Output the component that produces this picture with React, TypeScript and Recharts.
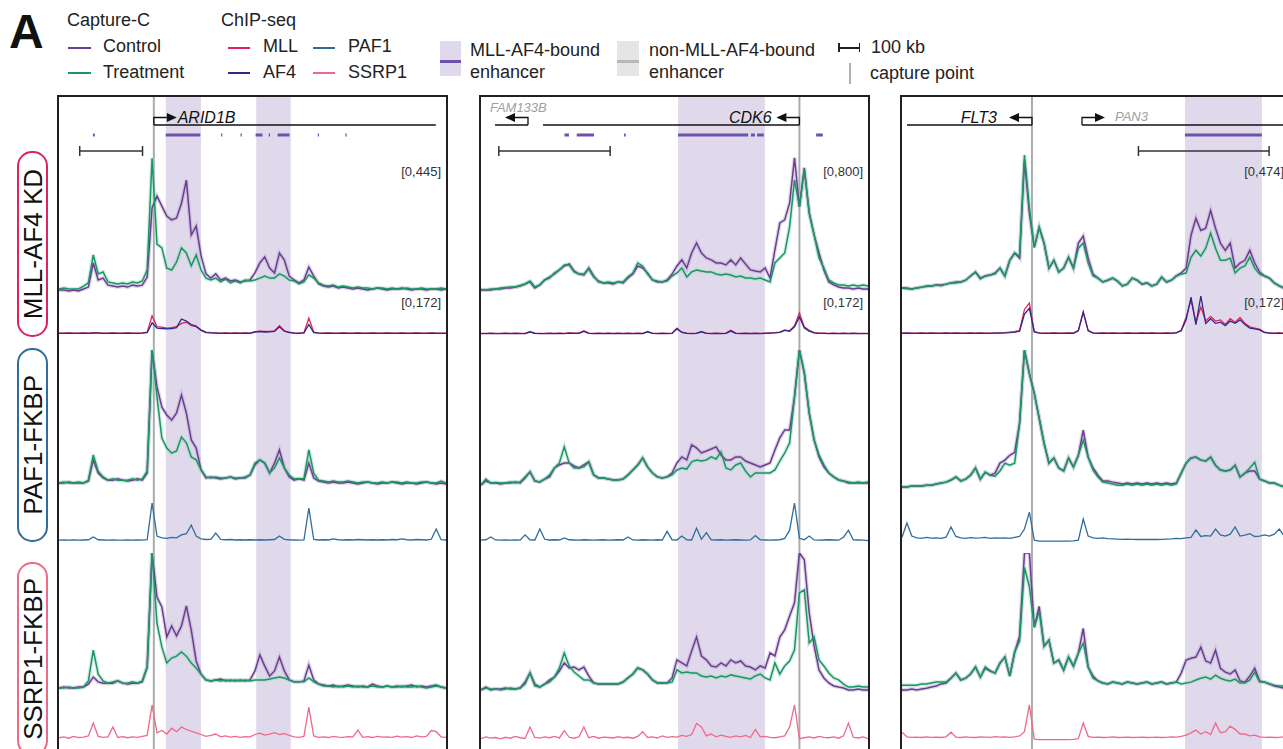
import React from 'react'
import { ComposedChart, Line, XAxis, YAxis, ReferenceArea, ReferenceLine, ReferenceDot } from 'recharts'

const FONT = '"Liberation Sans", Arial, Helvetica, sans-serif'

const C = {
  ctrl: '#6b3f90', ctrlBand: '#b9a2cf',
  trt: '#1d9466', trtBand: '#9ed6bd',
  mll: '#e3215f', af4: '#2b2b88', paf1: '#2f6d9d', ssrp1: '#f0698a',
  shade: '#e0d9eb', enh: '#6c52ae', capture: '#aaacac', border: '#231f20',
}

// ---------- ARID1B locus (capture-C range 0-445, ChIP range 0-172) ----------
const ARID1B_KD_CTRL = [
  25, 25, 22, 25, 22, 28, 34, 109, 56, 62,
  40, 37, 34, 37, 34, 40, 37, 40, 65, 280,
  317, 286, 255, 243, 249, 295, 367, 196, 224, 131,
  75, 62, 75, 56, 62, 53, 56, 50, 53, 56,
  78, 109, 128, 93, 78, 140, 118, 68, 56, 47,
  56, 96, 68, 44, 37, 34, 37, 31, 34, 31,
  28, 31, 28, 25, 28, 31, 28, 25, 28, 28,
  31, 28, 25, 28, 28, 25, 28, 28, 25, 28,
]
const ARID1B_KD_TRT = [
  28, 31, 28, 28, 28, 37, 47, 134, 75, 81,
  50, 47, 44, 47, 44, 50, 47, 53, 87, 435,
  168, 156, 93, 87, 112, 156, 140, 100, 134, 87,
  62, 56, 62, 50, 59, 47, 53, 47, 56, 53,
  56, 62, 68, 62, 62, 75, 68, 56, 53, 44,
  50, 72, 62, 47, 40, 37, 40, 34, 37, 34,
  31, 34, 31, 31, 28, 31, 31, 28, 31, 28,
  28, 31, 28, 28, 31, 28, 28, 28, 31, 28,
]
const ARID1B_MLL = [
  8, 8, 9, 8, 8, 9, 8, 10, 9, 8,
  8, 9, 8, 8, 9, 8, 8, 9, 12, 82,
  36, 34, 30, 32, 36, 50, 55, 40, 36, 22,
  12, 10, 9, 8, 9, 8, 9, 8, 9, 8,
  14, 17, 15, 16, 18, 40, 18, 12, 9, 8,
  10, 73, 12, 9, 8, 9, 8, 8, 9, 8,
  8, 9, 8, 8, 9, 8, 8, 9, 8, 8,
  9, 8, 8, 9, 8, 8, 9, 8, 8, 8,
]
const ARID1B_AF4 = [
  7, 7, 8, 7, 7, 8, 7, 8, 8, 7,
  7, 8, 7, 7, 8, 7, 7, 8, 10, 52,
  30, 28, 26, 28, 32, 69, 60, 45, 38, 20,
  10, 9, 8, 7, 8, 7, 8, 7, 8, 7,
  12, 15, 13, 14, 16, 35, 16, 10, 8, 7,
  9, 45, 10, 8, 7, 8, 7, 7, 8, 7,
  7, 8, 7, 7, 8, 7, 7, 8, 7, 7,
  8, 7, 7, 8, 7, 7, 8, 7, 7, 7,
]
const ARID1B_PAF_CTRL = [
  31, 31, 34, 31, 31, 31, 37, 103, 62, 47,
  40, 40, 44, 40, 37, 40, 44, 40, 62, 445,
  330, 267, 243, 227, 249, 305, 249, 165, 140, 72,
  47, 50, 47, 44, 47, 50, 44, 47, 47, 56,
  87, 103, 93, 62, 93, 134, 78, 50, 40, 44,
  40, 93, 47, 37, 34, 31, 34, 31, 31, 34,
  31, 28, 31, 34, 31, 28, 31, 31, 34, 31,
  28, 31, 31, 28, 31, 34, 31, 28, 31, 28,
]
const ARID1B_PAF_TRT = [
  31, 34, 31, 31, 34, 31, 40, 118, 68, 50,
  40, 44, 40, 40, 40, 44, 40, 44, 68, 445,
  299, 171, 140, 124, 131, 174, 156, 112, 103, 72,
  50, 47, 50, 47, 47, 50, 47, 47, 50, 56,
  93, 103, 93, 62, 78, 109, 78, 56, 44, 44,
  44, 134, 62, 40, 37, 34, 37, 34, 34, 37,
  34, 31, 34, 34, 31, 31, 34, 31, 34, 34,
  31, 34, 31, 31, 34, 34, 31, 31, 37, 31,
]
const ARID1B_PAF1 = [
  12, 13, 12, 13, 12, 13, 14, 26, 14, 13,
  12, 13, 12, 12, 13, 12, 13, 12, 14, 172,
  30, 22, 20, 24, 22, 35, 40, 77, 30, 18,
  15, 16, 43, 16, 14, 15, 13, 14, 13, 14,
  13, 14, 13, 14, 15, 30, 16, 14, 13, 12,
  13, 150, 15, 13, 14, 13, 18, 14, 13, 14,
  13, 15, 14, 13, 14, 13, 14, 13, 15, 14,
  18, 14, 13, 15, 14, 13, 16, 60, 14, 13,
]
const ARID1B_SSRP_CTRL = [
  25, 28, 25, 25, 28, 28, 37, 59, 44, 40,
  40, 40, 47, 40, 37, 40, 40, 44, 90, 445,
  308, 277, 184, 218, 187, 218, 280, 205, 109, 68,
  50, 47, 50, 53, 47, 50, 47, 50, 47, 50,
  78, 128, 93, 62, 78, 121, 78, 50, 44, 44,
  47, 96, 50, 37, 34, 31, 34, 28, 31, 34,
  31, 28, 31, 28, 37, 31, 28, 31, 28, 31,
  28, 31, 34, 28, 31, 28, 31, 34, 28, 25,
]
const ARID1B_SSRP_TRT = [
  25, 25, 28, 25, 25, 28, 47, 143, 68, 47,
  40, 44, 47, 40, 40, 44, 40, 47, 90, 445,
  227, 152, 103, 118, 124, 137, 124, 103, 87, 68,
  50, 47, 50, 47, 50, 47, 50, 47, 50, 47,
  50, 50, 50, 53, 56, 59, 56, 50, 44, 44,
  44, 56, 44, 37, 31, 31, 28, 31, 28, 31,
  28, 31, 28, 28, 31, 28, 28, 31, 28, 28,
  31, 28, 28, 31, 28, 25, 28, 31, 28, 25,
]
const ARID1B_SSRP1 = [
  14, 18, 12, 20, 15, 17, 22, 77, 20, 16,
  18, 60, 15, 19, 14, 18, 16, 20, 24, 155,
  35, 45, 30, 55, 40, 60, 50, 42, 35, 28,
  20, 24, 30, 18, 22, 17, 20, 16, 19, 18,
  28, 34, 25, 30, 36, 28, 32, 24, 18, 16,
  20, 146, 22, 16, 18, 15, 20, 17, 16, 19,
  18, 47, 16, 19, 15, 20, 17, 18, 16, 21,
  17, 19, 15, 22, 18, 20, 45, 40, 18, 16,
]

// ---------- CDK6 locus (capture-C range 0-800) ----------
const CDK6_KD_CTRL = [
  45, 45, 45, 50, 50, 56, 56, 62, 67, 78,
  90, 56, 73, 101, 112, 140, 157, 179, 190, 151,
  134, 129, 168, 123, 90, 84, 84, 78, 90, 84,
  112, 134, 179, 168, 140, 101, 90, 90, 101, 134,
  179, 213, 168, 252, 308, 252, 224, 213, 196, 196,
  185, 213, 185, 224, 190, 157, 151, 146, 168, 112,
  269, 420, 437, 532, 784, 510, 728, 476, 353, 252,
  157, 90, 73, 62, 56, 56, 50, 56, 50, 50,
]
const CDK6_KD_TRT = [
  48, 45, 50, 50, 56, 59, 62, 62, 70, 78,
  95, 62, 73, 101, 118, 134, 157, 185, 185, 146,
  134, 134, 162, 118, 95, 84, 90, 84, 90, 90,
  118, 140, 196, 179, 134, 101, 95, 90, 95, 123,
  140, 168, 118, 146, 157, 151, 146, 146, 134, 129,
  134, 129, 118, 123, 112, 112, 106, 112, 101, 90,
  196, 224, 252, 398, 661, 510, 717, 476, 353, 224,
  168, 101, 84, 73, 73, 67, 73, 67, 73, 67,
]
const CDK6_MLL = [
  7, 7, 8, 7, 7, 8, 7, 8, 7, 7,
  15, 8, 7, 7, 8, 7, 8, 7, 9, 8,
  8, 18, 8, 7, 8, 7, 8, 7, 8, 7,
  8, 7, 8, 7, 15, 8, 7, 8, 7, 8,
  30, 12, 8, 7, 8, 15, 8, 7, 8, 7,
  8, 20, 8, 7, 8, 7, 8, 7, 8, 9,
  10, 12, 22, 18, 40, 95, 35, 20, 10, 8,
  8, 7, 8, 7, 8, 7, 8, 7, 7, 7,
]
const CDK6_AF4 = [
  6, 6, 7, 6, 6, 7, 6, 7, 6, 6,
  12, 7, 6, 6, 7, 6, 7, 6, 8, 7,
  7, 15, 7, 6, 7, 6, 7, 6, 7, 6,
  7, 6, 7, 6, 13, 7, 6, 7, 6, 7,
  26, 11, 7, 6, 7, 13, 7, 6, 7, 6,
  7, 17, 7, 6, 7, 6, 7, 6, 7, 8,
  9, 11, 20, 16, 35, 78, 30, 17, 9, 7,
  7, 6, 7, 6, 7, 6, 7, 6, 6, 6,
]
const CDK6_PAF_CTRL = [
  45, 67, 56, 56, 50, 56, 56, 62, 56, 84,
  118, 67, 62, 78, 90, 140, 157, 168, 168, 151,
  140, 157, 174, 101, 84, 84, 78, 73, 73, 78,
  101, 129, 157, 196, 146, 112, 90, 84, 90, 112,
  168, 202, 185, 269, 252, 224, 235, 246, 258, 213,
  185, 185, 202, 202, 179, 168, 157, 146, 157, 168,
  241, 308, 353, 353, 538, 800, 672, 448, 297, 202,
  146, 112, 90, 73, 67, 56, 56, 56, 56, 56,
]
const CDK6_PAF_TRT = [
  45, 78, 56, 59, 56, 56, 62, 56, 62, 90,
  118, 67, 62, 78, 101, 140, 168, 258, 168, 140,
  140, 146, 174, 101, 84, 84, 78, 73, 73, 78,
  101, 129, 157, 196, 146, 112, 90, 84, 90, 101,
  129, 140, 134, 174, 185, 179, 185, 202, 190, 230,
  140, 129, 157, 168, 123, 90, 112, 112, 112, 112,
  129, 179, 224, 280, 538, 800, 672, 448, 297, 213,
  157, 112, 90, 73, 67, 62, 56, 62, 56, 62,
]
const CDK6_PAF1 = [
  12, 14, 26, 13, 12, 13, 12, 13, 12, 35,
  14, 13, 60, 16, 13, 14, 13, 22, 14, 13,
  12, 14, 13, 12, 13, 14, 12, 13, 14, 13,
  26, 13, 12, 14, 13, 12, 14, 13, 50, 14,
  13, 30, 14, 13, 64, 16, 45, 14, 13, 14,
  12, 13, 14, 13, 12, 13, 32, 14, 13, 12,
  13, 14, 20, 55, 172, 20, 14, 30, 13, 12,
  13, 14, 13, 12, 25, 55, 14, 13, 12, 10,
]
const CDK6_SSRP_CTRL = [
  34, 50, 34, 39, 39, 45, 39, 39, 45, 78,
  129, 67, 50, 67, 90, 106, 140, 185, 157, 162,
  146, 162, 112, 73, 67, 67, 67, 67, 67, 78,
  101, 123, 157, 146, 123, 90, 73, 73, 73, 101,
  202, 185, 168, 252, 330, 224, 202, 168, 162, 185,
  168, 202, 185, 196, 168, 162, 146, 168, 157, 241,
  224, 330, 370, 448, 521, 800, 762, 465, 280, 146,
  101, 73, 56, 50, 45, 34, 34, 39, 34, 34,
]
const CDK6_SSRP_TRT = [
  34, 45, 39, 39, 34, 39, 45, 39, 45, 67,
  129, 56, 50, 67, 78, 106, 157, 241, 168, 134,
  112, 90, 90, 73, 67, 67, 67, 67, 67, 78,
  101, 123, 157, 146, 123, 90, 73, 73, 73, 78,
  146, 129, 134, 129, 129, 112, 106, 112, 101, 112,
  106, 118, 112, 106, 101, 95, 112, 123, 101, 90,
  185, 123, 168, 196, 258, 577, 594, 297, 330, 202,
  168, 129, 101, 90, 67, 50, 50, 56, 50, 50,
]
const CDK6_SSRP1 = [
  10, 18, 12, 15, 9, 16, 12, 20, 14, 11,
  60, 15, 12, 18, 14, 20, 13, 45, 16, 12,
  18, 60, 14, 20, 12, 17, 15, 13, 19, 14,
  16, 12, 20, 40, 15, 18, 13, 22, 16, 19,
  17, 24, 20, 28, 75, 60, 22, 30, 18, 25,
  20, 16, 22, 18, 24, 15, 50, 18, 20, 16,
  14, 18, 22, 60, 155, 10, 14, 18, 13, 20,
  16, 14, 18, 12, 22, 77, 16, 13, 18, 10,
]

// ---------- FLT3 locus (capture-C range 0-474) ----------
const FLT3_KD_CTRL = [
  33, 33, 30, 33, 36, 40, 40, 43, 43, 46,
  50, 53, 53, 59, 73, 86, 66, 73, 76, 83,
  99, 73, 125, 149, 132, 455, 281, 168, 234, 182,
  99, 125, 86, 99, 135, 99, 182, 205, 132, 79,
  66, 53, 59, 66, 56, 40, 46, 66, 59, 46,
  50, 40, 46, 69, 53, 59, 73, 83, 99, 208,
  264, 224, 231, 290, 231, 182, 158, 182, 99, 116,
  125, 158, 116, 86, 73, 66, 50, 40, 33, 33,
]
const FLT3_KD_TRT = [
  33, 31, 30, 33, 36, 38, 40, 43, 41, 46,
  50, 50, 53, 59, 73, 86, 63, 73, 76, 80,
  99, 73, 125, 149, 139, 474, 300, 168, 234, 182,
  99, 125, 86, 99, 135, 99, 165, 182, 116, 73,
  66, 53, 59, 66, 56, 40, 46, 66, 59, 46,
  50, 40, 46, 69, 53, 59, 73, 79, 83, 135,
  158, 139, 165, 215, 165, 125, 125, 132, 83, 99,
  106, 135, 99, 79, 73, 66, 50, 40, 33, 33,
]
const FLT3_MLL = [
  8, 9, 8, 8, 9, 8, 9, 8, 8, 9,
  8, 9, 8, 8, 9, 8, 9, 8, 8, 9,
  9, 10, 12, 14, 20, 110, 137, 15, 9, 8,
  8, 9, 8, 8, 9, 8, 20, 99, 20, 9,
  8, 9, 8, 9, 8, 8, 9, 8, 8, 9,
  8, 9, 8, 8, 9, 8, 10, 20, 77, 150,
  55, 120, 60, 80, 60, 65, 45, 70, 55, 75,
  50, 35, 30, 25, 12, 9, 8, 9, 8, 8,
]
const FLT3_AF4 = [
  7, 8, 7, 7, 8, 7, 8, 7, 7, 8,
  7, 8, 7, 7, 8, 7, 8, 7, 7, 8,
  8, 9, 10, 12, 16, 90, 115, 13, 8, 7,
  7, 8, 7, 7, 8, 7, 18, 99, 18, 8,
  7, 8, 7, 8, 7, 7, 8, 7, 7, 8,
  7, 8, 7, 7, 8, 7, 9, 18, 65, 163,
  45, 167, 50, 70, 50, 55, 40, 60, 50, 65,
  45, 30, 26, 22, 10, 8, 7, 8, 7, 7,
]
const FLT3_PAF_CTRL = [
  20, 20, 23, 23, 23, 26, 26, 30, 33, 36,
  43, 53, 40, 46, 59, 83, 46, 69, 59, 66,
  99, 109, 125, 135, 231, 474, 396, 330, 248, 165,
  99, 116, 83, 73, 116, 86, 125, 208, 119, 83,
  59, 40, 40, 36, 33, 30, 33, 30, 33, 30,
  33, 30, 33, 30, 33, 30, 33, 66, 99, 116,
  119, 109, 106, 119, 92, 76, 73, 76, 92, 53,
  66, 73, 73, 46, 40, 33, 33, 26, 20, 20,
]
const FLT3_PAF_TRT = [
  20, 20, 23, 23, 23, 26, 26, 30, 33, 36,
  43, 53, 40, 46, 59, 83, 46, 69, 59, 56,
  73, 99, 92, 99, 231, 474, 396, 330, 248, 165,
  99, 116, 83, 73, 116, 86, 125, 175, 119, 76,
  53, 36, 33, 30, 26, 26, 30, 26, 30, 26,
  30, 26, 30, 26, 30, 26, 30, 66, 99, 116,
  119, 109, 106, 119, 92, 76, 73, 76, 92, 53,
  66, 83, 102, 46, 40, 33, 33, 26, 20, 20,
]
const FLT3_PAF1 = [
  25, 86, 30, 22, 20, 24, 21, 22, 20, 25,
  69, 28, 22, 20, 23, 21, 22, 24, 20, 22,
  21, 22, 20, 24, 28, 60, 133, 12, 8, 8,
  8, 8, 8, 8, 8, 9, 12, 103, 30, 22,
  20, 22, 19, 18, 17, 16, 17, 16, 15, 16,
  15, 16, 15, 16, 17, 18, 20, 19, 22, 24,
  56, 28, 32, 30, 60, 35, 30, 38, 69, 30,
  34, 40, 28, 30, 35, 30, 38, 60, 30, 32,
]
const FLT3_SSRP_CTRL = [
  20, 20, 23, 20, 23, 26, 30, 33, 40, 43,
  59, 76, 53, 59, 73, 96, 63, 92, 83, 76,
  109, 129, 66, 145, 198, 474, 474, 228, 297, 165,
  185, 109, 119, 86, 129, 99, 142, 224, 96, 66,
  50, 43, 40, 46, 43, 40, 46, 43, 40, 43,
  46, 40, 43, 46, 40, 43, 46, 76, 119, 125,
  129, 162, 116, 109, 152, 92, 79, 73, 86, 50,
  46, 66, 92, 50, 46, 40, 33, 30, 26, 26,
]
const FLT3_SSRP_TRT = [
  36, 36, 36, 36, 40, 40, 43, 46, 46, 46,
  59, 76, 53, 59, 73, 96, 63, 96, 83, 76,
  109, 129, 66, 145, 182, 426, 363, 228, 281, 165,
  185, 109, 119, 86, 129, 99, 142, 175, 96, 59,
  50, 43, 40, 46, 43, 40, 46, 43, 40, 43,
  46, 40, 43, 46, 40, 43, 46, 40, 43, 46,
  53, 59, 63, 56, 69, 59, 53, 50, 56, 43,
  43, 53, 79, 46, 46, 40, 36, 33, 33, 33,
]
const FLT3_SSRP1 = [
  38, 18, 16, 17, 15, 18, 16, 17, 15, 18,
  38, 17, 15, 18, 16, 15, 18, 17, 16, 19,
  17, 18, 16, 18, 22, 40, 155, 8, 6, 6,
  6, 6, 6, 6, 6, 7, 10, 77, 20, 16,
  17, 15, 16, 18, 15, 16, 17, 15, 16, 17,
  15, 16, 17, 15, 16, 18, 17, 20, 25, 35,
  47, 30, 40, 28, 77, 35, 40, 64, 50, 30,
  30, 22, 25, 18, 16, 17, 15, 16, 18, 15,
]

// ---------- layout ----------
const INNER_W = 387
const PANEL_TOP = 95
const PANEL_H = 680
const CAP_H = 143
const CHIP_H = 40
const CHIP_MAX = 172
const ANNOT_H = 64
const GENE_Y = 28
const TSS_RISE = 7.5
const ENH_Y = 38
const SCALE_Y = 54
const NAME_Y = 20
const ABOVE_Y = 10

const ROWS = [
  { capTop: 58, chipTop: 198, ctrl: 'kdCtrl', trt: 'kdTrt', chip: [['mll', C.mll], ['af4', C.af4]] },
  { capTop: 253, chipTop: 406, ctrl: 'pafCtrl', trt: 'pafTrt', chip: [['paf1', C.paf1]] },
  { capTop: 456, chipTop: 604, ctrl: 'ssrpCtrl', trt: 'ssrpTrt', chip: [['ssrp1', C.ssrp1]] },
]

const PANELS = [
  {
    left: 57, binKb: 7.8, capture: 151, capMax: 445,
    shades: [[170, 226], [314, 369]],
    genes: [{ start: 151, end: 600, tss: 151, dir: 1 }],
    names: [{ text: 'ARID1B', kb: 189, anchor: 'start', muted: false, y: NAME_Y }],
    enhancers: [[54, 57], [170, 225], [258, 260], [289, 291], [313, 324], [334, 336], [348, 367], [412, 414], [456, 458]],
    scale: [33, 133],
    series: {
      kdCtrl: ARID1B_KD_CTRL, kdTrt: ARID1B_KD_TRT, mll: ARID1B_MLL, af4: ARID1B_AF4,
      pafCtrl: ARID1B_PAF_CTRL, pafTrt: ARID1B_PAF_TRT, paf1: ARID1B_PAF1,
      ssrpCtrl: ARID1B_SSRP_CTRL, ssrpTrt: ARID1B_SSRP_TRT, ssrp1: ARID1B_SSRP1,
    },
  },
  {
    left: 479, binKb: 4.4, capture: 286, capMax: 800,
    shades: [[177, 255]],
    genes: [{ start: 12.6, end: 42.2, tss: 42.2, dir: -1 }, { start: 55.7, end: 286, tss: 286, dir: -1 }],
    names: [
      { text: 'FAM133B', kb: 8, anchor: 'start', muted: true, y: ABOVE_Y },
      { text: 'CDK6', kb: 261, anchor: 'end', muted: false, y: NAME_Y },
    ],
    enhancers: [[75, 79], [86, 101.5], [128.5, 130], [177, 240], [242.5, 246], [248, 254], [301, 307]],
    scale: [16, 116],
    series: {
      kdCtrl: CDK6_KD_CTRL, kdTrt: CDK6_KD_TRT, mll: CDK6_MLL, af4: CDK6_AF4,
      pafCtrl: CDK6_PAF_CTRL, pafTrt: CDK6_PAF_TRT, paf1: CDK6_PAF1,
      ssrpCtrl: CDK6_SSRP_CTRL, ssrpTrt: CDK6_SSRP_TRT, ssrp1: CDK6_SSRP1,
    },
  },
  {
    left: 900, binKb: 3.75, capture: 99.5, capMax: 474,
    shades: [[216.6, 275.5]],
    genes: [{ start: 3.8, end: 99.5, tss: 99.5, dir: -1 }, { start: 137.8, end: 296, tss: 137.8, dir: 1 }],
    names: [
      { text: 'FLT3', kb: 72.7, anchor: 'end', muted: false, y: NAME_Y },
      { text: 'PAN3', kb: 163, anchor: 'start', muted: true, y: NAME_Y - 1 },
    ],
    enhancers: [[216.6, 275.5]],
    scale: [181, 281],
    series: {
      kdCtrl: FLT3_KD_CTRL, kdTrt: FLT3_KD_TRT, mll: FLT3_MLL, af4: FLT3_AF4,
      pafCtrl: FLT3_PAF_CTRL, pafTrt: FLT3_PAF_TRT, paf1: FLT3_PAF1,
      ssrpCtrl: FLT3_SSRP_CTRL, ssrpTrt: FLT3_SSRP_TRT, ssrp1: FLT3_SSRP1,
    },
  },
]

function buildRows(binKb: number, series: Record<string, number[]>) {
  const n = series.kdCtrl.length
  return Array.from({ length: n }, (_, i) => {
    const row: Record<string, number> = { kb: +(i * binKb).toFixed(2), lane: 0 }
    for (const k of Object.keys(series)) row[k] = series[k][i]
    return row
  })
}

const tssShape = (dir: number) => (p: any) => {
  const { cx, cy } = p
  const top = cy - TSS_RISE
  const end = cx + dir * 13
  return (
    <g>
      <polyline points={`${cx},${cy} ${cx},${top} ${end},${top}`} fill="none" stroke="#111" strokeWidth={1.3} />
      <polygon points={`${end},${top - 4.5} ${end + dir * 10},${top} ${end},${top + 4.5}`} fill="#111" />
    </g>
  )
}

const nameShape = (text: string, anchor: string, muted: boolean) => (p: any) => (
  <text
    x={p.cx} y={p.cy} textAnchor={anchor} dominantBaseline="central"
    fontStyle="italic" fontFamily={FONT} fontSize={muted ? 13 : 16} fill={muted ? '#a0a0a0' : '#111'}
  >
    {text}
  </text>
)

const margin = { top: 0, right: 0, bottom: 0, left: 0 }

function Track({ rows, maxKb, top, height, max, children }: any) {
  return (
    <div style={{ position: 'absolute', left: 0, top }}>
      <ComposedChart width={INNER_W} height={height} data={rows} margin={margin}>
        <XAxis hide type="number" dataKey="kb" domain={[0, maxKb]} />
        <YAxis hide domain={[0, max]} allowDataOverflow />
        {children}
      </ComposedChart>
    </div>
  )
}

function Panel({ p }: any) {
  const rows = buildRows(p.binKb, p.series)
  const maxKb = (rows.length - 1) * p.binKb
  const rangeStyle: React.CSSProperties = {
    position: 'absolute', right: 5, fontSize: 13, lineHeight: '13px', color: '#333', fontFamily: FONT,
  }
  return (
    <div
      style={{
        position: 'absolute', left: p.left, top: PANEL_TOP, width: INNER_W + 4, height: PANEL_H,
        border: `2px solid ${C.border}`, boxSizing: 'border-box', background: '#fff',
      }}
    >
      {/* enhancer shading and capture point */}
      <Track rows={rows} maxKb={maxKb} top={0} height={PANEL_H} max={1}>
        {p.shades.map(([a, b]: number[], i: number) => (
          <ReferenceArea key={i} x1={a} x2={b} fill={C.shade} fillOpacity={1} stroke="none" />
        ))}
        <ReferenceLine x={p.capture} stroke={C.capture} strokeWidth={2} />
      </Track>

      {/* genes, enhancers, scale bar */}
      <div style={{ position: 'absolute', left: 0, top: 0 }}>
        <ComposedChart width={INNER_W} height={ANNOT_H} data={rows} margin={margin}>
          <XAxis hide type="number" dataKey="kb" domain={[0, maxKb]} />
          <YAxis hide reversed type="number" domain={[0, ANNOT_H]} allowDataOverflow />
          <Line dataKey="lane" stroke="none" dot={false} activeDot={false} isAnimationActive={false} />
          {p.genes.map((g: any, i: number) => (
            <ReferenceLine key={`g${i}`} segment={[{ x: g.start, y: GENE_Y }, { x: g.end, y: GENE_Y }]} stroke="#111" strokeWidth={1.3} />
          ))}
          {p.genes.map((g: any, i: number) => (
            <ReferenceDot key={`t${i}`} x={g.tss} y={GENE_Y} r={0} shape={tssShape(g.dir)} />
          ))}
          {p.names.map((n: any, i: number) => (
            <ReferenceDot key={`n${i}`} x={n.kb} y={n.y} r={0} shape={nameShape(n.text, n.anchor, n.muted)} />
          ))}
          {p.enhancers.map(([a, b]: number[], i: number) => (
            <ReferenceLine key={`e${i}`} segment={[{ x: a, y: ENH_Y }, { x: b, y: ENH_Y }]} stroke={C.enh} strokeWidth={3} />
          ))}
          <ReferenceLine segment={[{ x: p.scale[0], y: SCALE_Y }, { x: p.scale[1], y: SCALE_Y }]} stroke="#333" strokeWidth={1.5} />
          <ReferenceLine segment={[{ x: p.scale[0], y: SCALE_Y - 5 }, { x: p.scale[0], y: SCALE_Y + 5 }]} stroke="#333" strokeWidth={1.5} />
          <ReferenceLine segment={[{ x: p.scale[1], y: SCALE_Y - 5 }, { x: p.scale[1], y: SCALE_Y + 5 }]} stroke="#333" strokeWidth={1.5} />
        </ComposedChart>
      </div>

      {ROWS.map((r, ri) => (
        <React.Fragment key={ri}>
          <Track rows={rows} maxKb={maxKb} top={r.capTop} height={CAP_H} max={p.capMax}>
            <Line dataKey={r.ctrl} stroke={C.ctrlBand} strokeWidth={4} strokeOpacity={0.45} dot={false} activeDot={false} isAnimationActive={false} />
            <Line dataKey={r.trt} stroke={C.trtBand} strokeWidth={4} strokeOpacity={0.45} dot={false} activeDot={false} isAnimationActive={false} />
            <Line dataKey={r.ctrl} stroke={C.ctrl} strokeWidth={1.5} dot={false} activeDot={false} isAnimationActive={false} />
            <Line dataKey={r.trt} stroke={C.trt} strokeWidth={1.5} dot={false} activeDot={false} isAnimationActive={false} />
          </Track>
          <Track rows={rows} maxKb={maxKb} top={r.chipTop} height={CHIP_H} max={CHIP_MAX}>
            {r.chip.map(([k, col]) => (
              <Line key={k} dataKey={k} stroke={col} strokeWidth={1.3} dot={false} activeDot={false} isAnimationActive={false} />
            ))}
          </Track>
        </React.Fragment>
      ))}

      <div style={{ ...rangeStyle, top: 68 }}>{`[0,${p.capMax}]`}</div>
      <div style={{ ...rangeStyle, top: 199 }}>{`[0,${CHIP_MAX}]`}</div>
    </div>
  )
}

const txt = (left: number, top: number, s: string, extra: React.CSSProperties = {}) => (
  <div style={{ position: 'absolute', left, top, fontSize: 18, lineHeight: '18px', color: '#222', whiteSpace: 'nowrap', ...extra }}>{s}</div>
)
const swatch = (left: number, top: number, width: number, color: string, h = 2) => (
  <div style={{ position: 'absolute', left, top, width, height: h, background: color }} />
)

function RowLabel({ top, height, text, color }: any) {
  return (
    <div
      style={{
        position: 'absolute', left: 17, top, width: 31, height, boxSizing: 'border-box',
        border: `2px solid ${color}`, borderRadius: 15, display: 'flex', alignItems: 'center', justifyContent: 'center',
      }}
    >
      <div style={{ writingMode: 'vertical-rl', transform: 'rotate(180deg)', fontSize: 26, lineHeight: '26px', color: '#111', whiteSpace: 'nowrap' }}>
        {text}
      </div>
    </div>
  )
}

export default function App() {
  return (
    <div style={{ position: 'absolute', left: 0, top: 0, width: 1283, height: 749, overflow: 'hidden', background: '#fff', fontFamily: FONT }}>
      <div style={{ position: 'absolute', left: 9, top: 8, fontSize: 48, lineHeight: '48px', fontWeight: 700, color: '#111' }}>A</div>

      {txt(67, 11, 'Capture-C')}
      {swatch(68, 47, 23, C.ctrl)}
      {txt(103, 37, 'Control')}
      {swatch(68, 72, 23, C.trt)}
      {txt(103, 63, 'Treatment')}

      {txt(221, 11, 'ChIP-seq')}
      {swatch(228, 47, 22, C.mll)}
      {txt(263, 37, 'MLL')}
      {swatch(228, 72, 22, C.af4)}
      {txt(263, 63, 'AF4')}
      {swatch(313, 47, 22, C.paf1)}
      {txt(348, 37, 'PAF1')}
      {swatch(313, 72, 22, C.ssrp1)}
      {txt(348, 63, 'SSRP1')}

      <div style={{ position: 'absolute', left: 440, top: 41, width: 21, height: 35, background: C.shade }} />
      {swatch(440, 60, 21, C.enh, 3)}
      <div style={{ position: 'absolute', left: 470, top: 39, fontSize: 18, lineHeight: '22px', color: '#222' }}>
        MLL-AF4-bound<br />enhancer
      </div>
      <div style={{ position: 'absolute', left: 617, top: 41, width: 22, height: 35, background: '#e4e5e4' }} />
      {swatch(617, 60, 22, '#b8b9b8', 3)}
      <div style={{ position: 'absolute', left: 649, top: 39, fontSize: 18, lineHeight: '22px', color: '#222' }}>
        non-MLL-AF4-bound<br />enhancer
      </div>

      {swatch(838, 47, 22, '#222', 1.5)}
      {swatch(838, 43, 1.5, '#222', 9)}
      {swatch(858.5, 43, 1.5, '#222', 9)}
      {txt(871, 38, '100 kb')}
      {swatch(849, 63, 2, '#b0b0b0', 21)}
      {txt(870, 64, 'capture point')}

      <RowLabel top={151} height={186} text="MLL-AF4 KD" color="#dd2460" />
      <RowLabel top={348} height={194} text="PAF1-FKBP" color="#2f6d9d" />
      <RowLabel top={562} height={194} text="SSRP1-FKBP" color="#f0698a" />

      {PANELS.map((p, i) => (
        <Panel key={i} p={p} />
      ))}
    </div>
  )
}
